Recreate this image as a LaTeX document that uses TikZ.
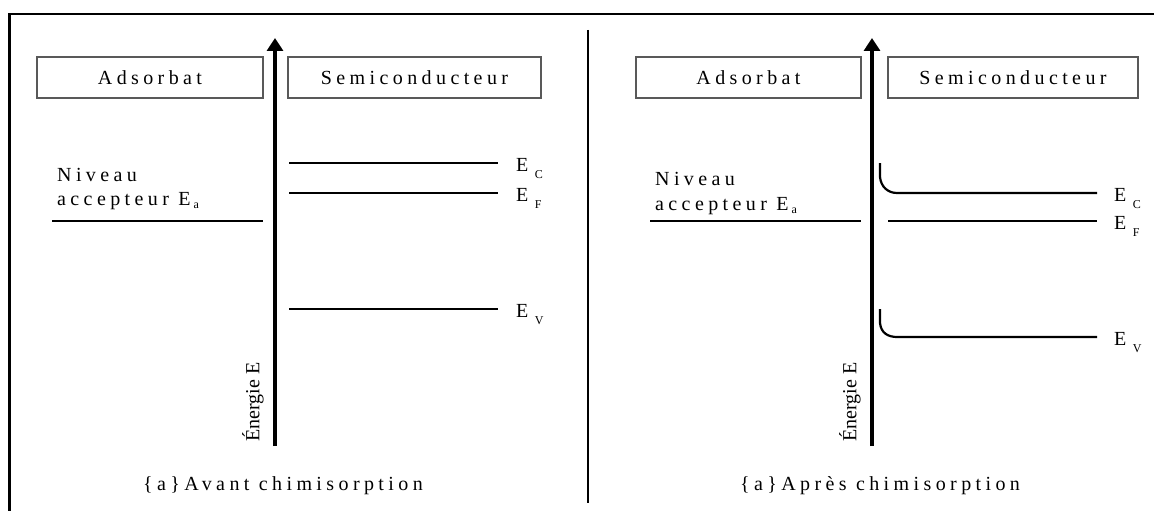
\documentclass[tikz,border=0pt]{standalone}
\usepackage{fontspec}
\setmainfont{Liberation Serif}
\newfontfamily\spaced[LetterSpace=22]{Liberation Serif}
\usetikzlibrary{arrows.meta}
\newcommand{\sbt}[3]{E\kern#1pt\raisebox{-#2pt}{\fontsize{12}{12}\selectfont #3}}
\begin{document}
\begin{tikzpicture}[x=1pt,y=-1pt,
  frame/.style={line width=2.5pt},
  divider/.style={line width=2pt},
  level/.style={line width=2.2pt},
  axis/.style={line width=4pt,-{Triangle[width=16pt,length=13pt]}},
  boxlabel/.style={draw=black!65,line width=1.5pt,minimum height=41pt,inner sep=0pt,
    font=\fontsize{20}{24}\selectfont\spaced},
  txt/.style={inner sep=0pt,font=\fontsize{20}{24}\selectfont\spaced},
  elabel/.style={inner sep=0pt,anchor=base west,font=\fontsize{20}{24}\selectfont},
  vlabel/.style={inner sep=0pt,rotate=90,font=\fontsize{20}{24}\selectfont}
]
\useasboundingbox (0,0) rectangle (1154,511);
% frame
\coordinate (fBL) at (9.5,511);
\coordinate (fTL) at (9.5,14);
\coordinate (fTR) at (1154,14);
\draw[frame] (fBL) -- (fTL) -- (fTR);
\coordinate (dTop) at (588,30);
\coordinate (dBot) at (588,503);
\draw[divider] (dTop) -- (dBot);

% ===== left panel =====
\node[boxlabel,minimum width=226pt] (adsL) at (150,77.5) {Adsorbat};
\node[boxlabel,minimum width=253pt] (semL) at (414.5,77.5) {Semiconducteur};
\coordinate (axLb) at (275,446);
\coordinate (axLt) at (275,38);
\draw[axis] (axLb) -- (axLt);
\node[vlabel] (enL) at (253,402) {Énergie E};

\coordinate (ecL1) at (289,163); \coordinate (ecL2) at (498,163);
\coordinate (efL1) at (289,193); \coordinate (efL2) at (498,193);
\coordinate (evL1) at (289,309); \coordinate (evL2) at (498,309);
\coordinate (eaL1) at (52,221);  \coordinate (eaL2) at (263,221);
\draw[level] (ecL1) -- (ecL2);
\draw[level] (efL1) -- (efL2);
\draw[level] (evL1) -- (evL2);
\draw[level] (eaL1) -- (eaL2);
\node[elabel] (lecL) at (516,171) {\sbt{6.5}{7}{C}};
\node[elabel] (lefL) at (516,201) {\sbt{6.5}{7}{F}};
\node[elabel] (levL) at (516,317) {\sbt{6.5}{7}{V}};
\node[txt,anchor=base west] (niv1L) at (57,181) {Niveau};
\node[txt,anchor=base west] (niv2L) at (57,205) {accepteur \sbt{3}{3}{a}};
\node[txt,anchor=base] (capL) at (283,490) {\{a\}Avant chimisorption};

% ===== right panel =====
\node[boxlabel,minimum width=225pt] (adsR) at (748.5,77.5) {Adsorbat};
\node[boxlabel,minimum width=250pt] (semR) at (1013,77.5) {Semiconducteur};
\coordinate (axRb) at (872,446);
\coordinate (axRt) at (872,38);
\draw[axis] (axRb) -- (axRt);
\node[vlabel] (enR) at (850,402) {Énergie E};

\coordinate (ecR0) at (880,163); \coordinate (ecR1) at (897,193); \coordinate (ecR2) at (1097,193);
\coordinate (efR1) at (888,221); \coordinate (efR2) at (1097,221);
\coordinate (evR0) at (880,309); \coordinate (evR1) at (897,337); \coordinate (evR2) at (1097,337);
\coordinate (eaR1) at (650,221); \coordinate (eaR2) at (861,221);
\draw[level] (ecR0) -- ++(0,14) .. controls +(1,10) and +(-9,0) .. (ecR1) -- (ecR2);
\draw[level] (efR1) -- (efR2);
\draw[level] (evR0) -- ++(0,14) .. controls +(1,10) and +(-9,0) .. (evR1) -- (evR2);
\draw[level] (eaR1) -- (eaR2);
\node[elabel] (lecR) at (1114,201) {\sbt{6.5}{7}{C}};
\node[elabel] (lefR) at (1114,229) {\sbt{6.5}{7}{F}};
\node[elabel] (levR) at (1114,345) {\sbt{6.5}{7}{V}};
\node[txt,anchor=base west] (niv1R) at (655,185) {Niveau};
\node[txt,anchor=base west] (niv2R) at (655,210) {accepteur \sbt{3}{3}{a}};
\node[txt,anchor=base] (capR) at (880,490) {\{a\}Après chimisorption};
\end{tikzpicture}
\end{document}
